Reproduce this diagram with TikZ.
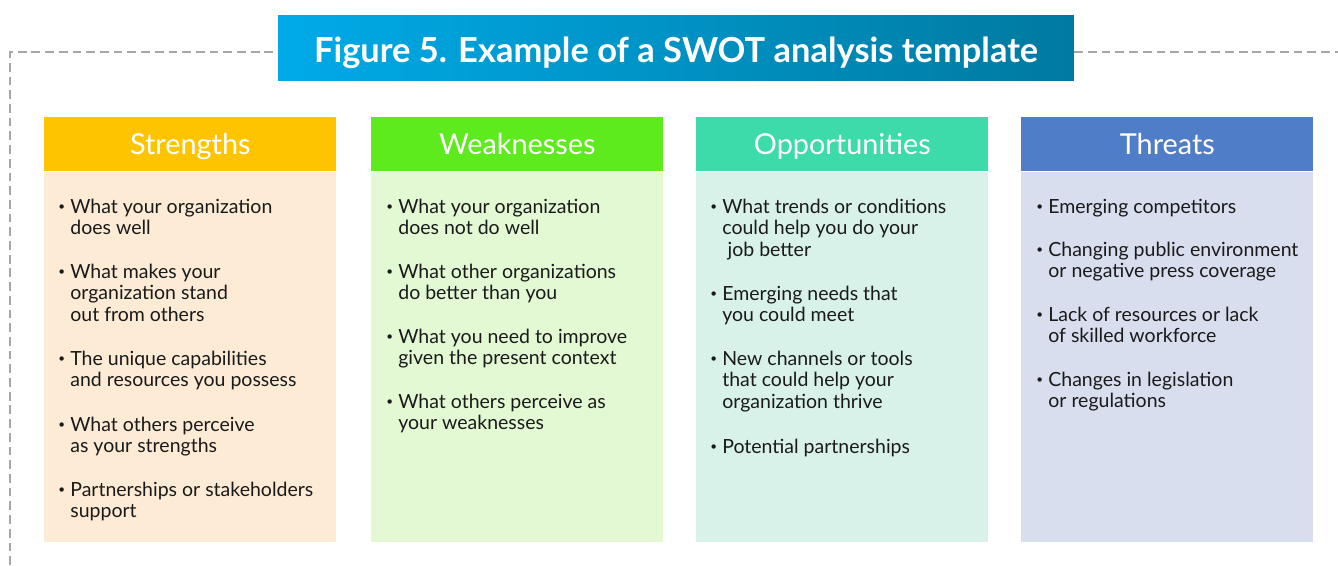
\documentclass[tikz,border=0pt]{standalone}
\usepackage{fontspec}
\setmainfont{Lato}
\usepackage{tikz}
\usetikzlibrary{positioning}
\definecolor{titleL}{RGB}{0,170,232}
\definecolor{titleR}{RGB}{0,122,160}
\definecolor{frameC}{RGB}{166,166,166}
\definecolor{strH}{RGB}{255,196,0}
\definecolor{strB}{RGB}{253,235,213}
\definecolor{weakH}{RGB}{94,235,30}
\definecolor{weakB}{RGB}{226,249,212}
\definecolor{oppH}{RGB}{61,219,169}
\definecolor{oppB}{RGB}{216,242,233}
\definecolor{thrH}{RGB}{80,125,200}
\definecolor{thrB}{RGB}{216,222,238}
\definecolor{txtC}{RGB}{26,26,26}
\newcommand{\bul}[1]{\makebox[0.24cm][l]{\raisebox{0.12em}{\scalebox{0.6}{\textbullet}}}\parbox[t]{5.3cm}{\raggedright #1}}

\begin{document}
\begin{tikzpicture}[x=0.02cm,y=-0.02cm,
	frame/.style={draw=frameC, line width=1.5pt, dash pattern=on 5pt off 2.8pt},
	head/.style={fill=#1, text=white, minimum width=5.84cm, minimum height=1.08cm, inner sep=0, text height=11.7pt, text depth=0pt, font=\fontsize{16.4}{19}\selectfont},
	body/.style={fill=#1, minimum width=5.84cm, minimum height=7.4cm, inner sep=0},
	entry/.style={anchor=base west, inner sep=0, text=txtC, font=\fontsize{11.1}{12.5}\selectfont}]
	
	\useasboundingbox (0,0) rectangle (1338,565);
	
	\node[shading=axis, left color=titleL, right color=titleR, minimum width=15.92cm, minimum height=1.32cm, inner sep=0, text height=16.3pt, text depth=0pt, text=white, font=\fontsize{19.6}{22}\bfseries] (title) at (676,48) {Figure 5. Example of a SWOT analysis template};
	
	\coordinate (fbl) at (10,565);
	\coordinate (ftl) at (10,52);
	\coordinate (ftr) at (1338,52);
	\draw[frame] (fbl) -- (ftl) -- (title.west |- ftl);
	\draw[frame] (title.east |- ftr) -- (ftr);
	
	\node[head=strH, anchor=north west] (sh) at (44,117) {Strengths};
	\node[body=strB, below=0pt of sh] (sb) {};
	\node[head=weakH, anchor=north west] (wh) at (371,117) {Weaknesses};
	\node[body=weakB, below=0pt of wh] (wb) {};
	\node[head=oppH, anchor=north west] (oh) at (696,117) {Opportunities};
	\node[body=oppB, below=0pt of oh] (ob) {};
	\node[head=thrH, anchor=north west] (th) at (1021,117) {Threats};
	\node[body=thrB, below=0pt of th] (tb) {};
	
	\node[entry] (s1) at (58,213) {\bul{What your organization\\does well}};
	\node[entry] (s2) at (58,278) {\bul{What makes your\\organization stand\\out from others}};
	\node[entry] (s3) at (58,365) {\bul{The unique capabilities\\and resources you possess}};
	\node[entry] (s4) at (58,431) {\bul{What others perceive\\as your strengths}};
	\node[entry] (s5) at (58,496) {\bul{Partnerships or stakeholders\\support}};
	
	\node[entry] (w1) at (386,213) {\bul{What your organization\\does not do well}};
	\node[entry] (w2) at (386,278) {\bul{What other organizations\\do better than you}};
	\node[entry] (w3) at (386,343) {\bul{What you need to improve\\given the present context}};
	\node[entry] (w4) at (386,408) {\bul{What others perceive as\\your weaknesses}};
	
	\node[entry] (o1) at (710,213) {\bul{What trends or conditions\\could help you do your\\\hspace*{3pt}job better}};
	\node[entry] (o2) at (710,300) {\bul{Emerging needs that\\you could meet}};
	\node[entry] (o3) at (710,365) {\bul{New channels or tools\\that could help your\\organization thrive}};
	\node[entry] (o4) at (710,453) {\bul{Potential partnerships}};
	
	\node[entry] (t1) at (1036,213) {\bul{Emerging competitors}};
	\node[entry] (t2) at (1036,256) {\bul{Changing public environment\\or negative press coverage}};
	\node[entry] (t3) at (1036,321) {\bul{Lack of resources or lack\\of skilled workforce}};
	\node[entry] (t4) at (1036,386) {\bul{Changes in legislation\\or regulations}};
\end{tikzpicture}
\end{document}
